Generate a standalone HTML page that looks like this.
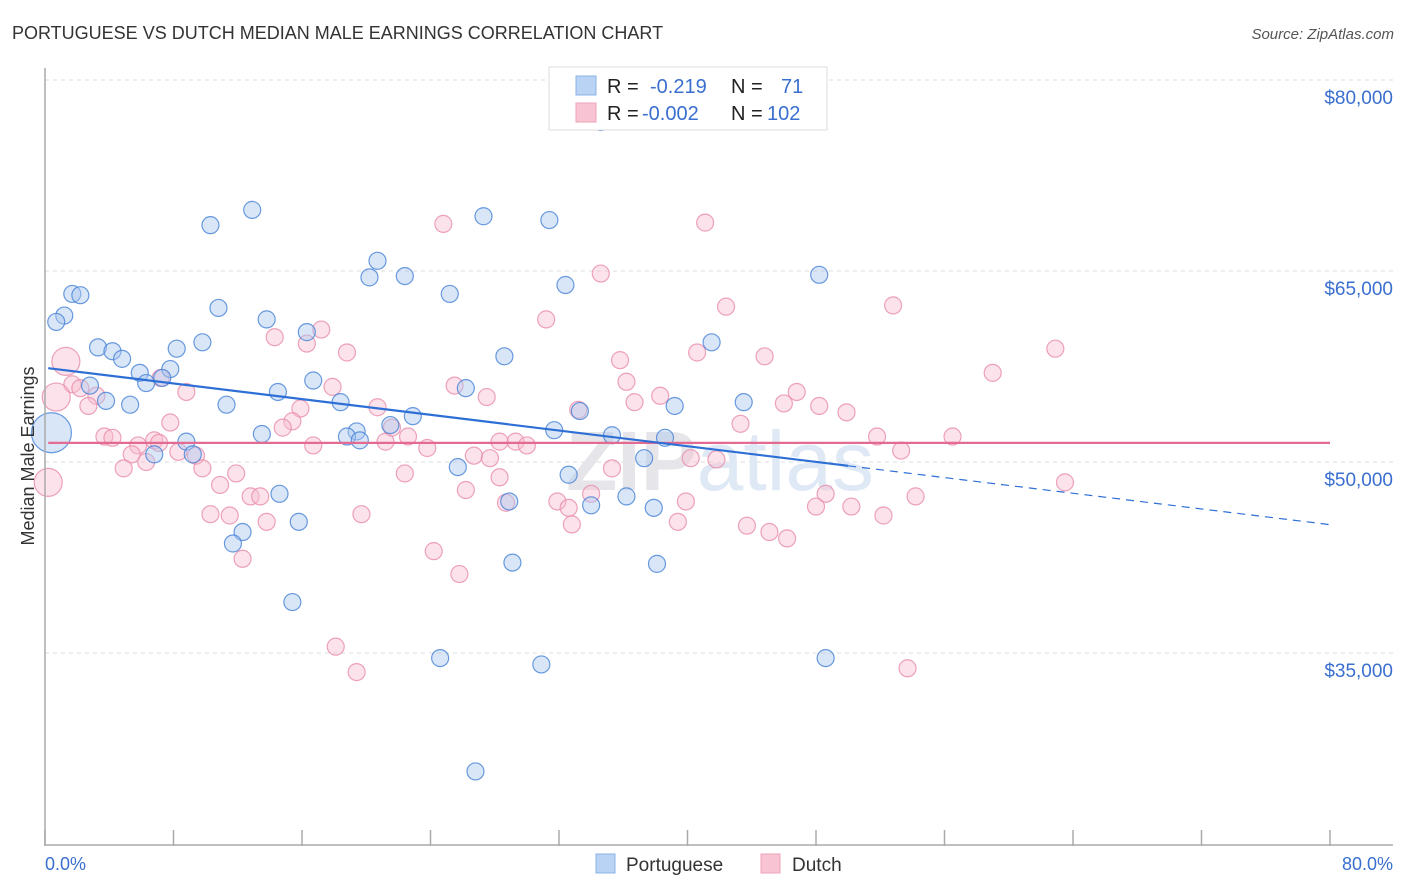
<!DOCTYPE html>
<html><head><meta charset="utf-8">
<style>
body{margin:0;background:#fff;font-family:"Liberation Sans",sans-serif;}
svg{display:block}
</style></head>
<body>
<svg id="chart" width="1406" height="892" xmlns="http://www.w3.org/2000/svg">
<text x="12" y="39" font-size="18" fill="#333">PORTUGUESE VS DUTCH MEDIAN MALE EARNINGS CORRELATION CHART</text>
<text x="1394" y="39" font-size="15" fill="#555" font-style="italic" text-anchor="end">Source: ZipAtlas.com</text>
<g id="grid"></g>
<text x="720" y="490" font-size="84" font-weight="bold" fill="#e6e6ea" text-anchor="middle">ZIP<tspan fill="#dfe8f5" font-weight="normal">atlas</tspan></text>
<g id="pinkPts"></g>
<g id="bluePts"></g>
<g id="lines"></g>
<g id="axes"></g>
<text transform="translate(34,456) rotate(-90)" font-size="18" fill="#333" text-anchor="middle">Median Male Earnings</text>
<text x="45" y="870" font-size="18" fill="#3a6fd0">0.0%</text>
<text x="1393" y="870" font-size="18" fill="#3a6fd0" text-anchor="end">80.0%</text>
<g>
<rect x="549" y="67" width="278" height="63" fill="#fff" stroke="#ddd"/>
<rect x="576" y="76" width="20" height="19" fill="#b9d3f5" stroke="#8cb1e6"/>
<rect x="576" y="103" width="20" height="19" fill="#f8c4d3" stroke="#eea3ba"/>
<text x="607" y="93" font-size="20" fill="#222">R = <tspan x="650" fill="#3a6fd0">-0.219</tspan><tspan x="731" fill="#222">N =</tspan><tspan x="781" fill="#3a6fd0">71</tspan></text>
<text x="607" y="120" font-size="20" fill="#222">R = <tspan x="642" fill="#3a6fd0">-0.002</tspan><tspan x="731" fill="#222">N =</tspan><tspan x="767" fill="#3a6fd0">102</tspan></text>
</g>
<g>
<rect x="596" y="854" width="19" height="19" fill="#b9d3f5" stroke="#8cb1e6"/>
<text x="626" y="871" font-size="19" fill="#333">Portuguese</text>
<rect x="761" y="854" width="19" height="19" fill="#f8c4d3" stroke="#eea3ba"/>
<text x="792" y="871" font-size="19" fill="#333">Dutch</text>
</g>
</svg>
<script>
const yTicks=[35000,50000,65000,80000];
const yTickLabels=["$35,000","$50,000","$65,000","$80,000"];
const blueX=[34.6,12.9,10.3,27.3,31.4,20.7,22.4,20.2,32.4,48.2,1.7,2.2,25.2,10.8,1.2,0.7,13.8,16.3,3.3,4.2,9.8,8.2,41.5,28.6,4.8,5.9,7.8,7.3,6.3,16.7,2.8,14.5,26.2,3.8,5.3,11.3,18.4,43.5,39.2,22.9,33.3,21.5,13.5,19.4,18.8,19.6,31.7,35.3,8.8,38.6,0.4,6.8,9.2,37.3,25.7,32.6,28.9,34.0,36.2,37.9,14.6,15.8,12.3,11.7,29.1,38.1,15.4,24.6,30.9,48.6,26.8];
const blueY=[76.7,69.8,68.6,69.3,69.0,65.8,64.6,64.5,63.9,64.7,63.2,63.1,63.2,62.1,61.5,61.0,61.2,60.2,59.0,58.7,59.4,58.9,59.4,58.3,58.1,57.0,57.3,56.6,56.2,56.4,56.0,55.5,55.8,54.8,54.5,54.5,54.7,54.7,54.4,53.6,54.0,52.9,52.2,52.4,52.0,51.7,52.5,52.1,51.6,51.9,52.3,50.6,50.6,50.3,49.6,49.0,46.9,46.6,47.3,46.4,47.5,45.3,44.5,43.6,42.1,42.0,39.0,34.6,34.1,34.6,25.7];
const blueBig=[50];
const pinkX=[41.1,24.8,34.6,42.4,52.8,31.2,17.2,14.3,16.3,18.8,1.3,35.8,40.6,44.8,62.9,59.0,1.7,2.2,17.9,25.5,36.2,27.5,38.3,3.2,0.7,2.7,8.8,15.9,20.7,46.0,46.8,48.2,49.9,7.2,36.7,33.2,7.8,15.4,43.3,14.8,3.7,4.2,6.8,5.8,22.6,21.2,23.8,8.3,9.4,5.4,21.6,51.8,56.5,29.3,30.0,16.7,28.3,26.7,27.7,40.2,41.8,53.3,6.3,4.9,9.8,11.9,22.4,35.3,28.3,0.2,10.9,63.5,26.2,48.6,34.0,54.2,12.8,13.4,28.7,31.9,39.9,32.6,48.0,50.2,10.3,11.5,19.7,52.2,13.8,39.4,32.8,43.7,45.1,46.2,24.2,12.3,25.8,18.1,19.4,53.7,7.1];
const pinkY=[68.8,68.7,64.8,62.2,62.3,61.2,60.4,59.8,59.3,58.6,57.9,58.0,58.6,58.3,58.9,57.0,56.1,55.8,55.9,56.0,56.3,55.1,55.2,55.2,55.1,54.4,55.5,54.2,54.3,54.6,55.5,54.4,53.9,56.6,54.7,54.1,53.1,53.2,53.0,52.7,52.0,51.9,51.7,51.3,52.0,51.6,51.1,50.8,50.5,50.6,52.7,52.0,52.0,51.6,51.3,51.3,51.6,50.5,50.3,50.3,50.2,50.9,50.0,49.5,49.5,49.1,49.1,49.5,48.8,48.4,48.2,48.4,47.8,47.5,47.5,47.3,47.3,47.3,46.8,46.9,46.9,46.4,46.5,46.5,45.9,45.8,45.9,45.8,45.3,45.3,45.1,45.0,44.5,44.0,43.0,42.4,41.2,35.5,33.5,33.8,51.5];
const pinkBig=[10,24,69];
const blueTrend=[57.4,-0.154];
const pinkTrend=[51.5,0];
const blueSolidEnd=50;

const NS="http://www.w3.org/2000/svg";
function xS(p){return 45+p*(1330-45)/80;}
function yS(k){return 462-(k*1000-50000)*191/15000;}
function mk(tag,attrs,parent){const e=document.createElementNS(NS,tag);for(const k in attrs)e.setAttribute(k,attrs[k]);parent.appendChild(e);return e;}
const grid=document.getElementById('grid');
yTicks.forEach((t,i)=>{
  const y=yS(t/1000);
  const l=mk('line',{x1:45,x2:1393,y1:y,y2:y,stroke:'#dcdcdc','stroke-dasharray':'4,4'},grid);
  
  
  const tx=mk('text',{x:1393,y:y+24,'font-size':19,fill:'#3a6fd0','text-anchor':'end'},grid);
  tx.textContent=yTickLabels[i];
  
  
});
const axes=document.getElementById('axes');
let a=mk('line',{x1:45,x2:45,y1:68,y2:846,stroke:'#aaa','stroke-width':1.5},axes);


a=mk('line',{x1:45,x2:1393,y1:845,y2:845,stroke:'#aaa','stroke-width':1.5},axes);


for(let i=0;i<=10;i++){
  const t=mk('line',{x1:xS(i*8),x2:xS(i*8),y1:830,y2:846,stroke:'#aaa','stroke-width':1.5},axes);
  
  
}
const pg=document.getElementById('pinkPts');
pinkX.forEach((x,i)=>{
  const big=pinkBig.includes(i);
  const c=mk('circle',{cx:xS(x),cy:yS(pinkY[i]),r:big?14:8.5,fill:'rgba(248,190,208,0.45)',stroke:'rgba(232,140,170,0.8)','stroke-width':1.2},pg);
  
  
});
const bg=document.getElementById('bluePts');
blueX.forEach((x,i)=>{
  const big=blueBig.includes(i);
  const c=mk('circle',{cx:xS(x),cy:yS(blueY[i]),r:big?20:8.5,fill:'rgba(170,200,240,0.45)',stroke:'rgba(70,130,215,0.8)','stroke-width':1.2},bg);
  
  
});
const lg=document.getElementById('lines');
function tv(t,x){return t[0]+t[1]*x;}
let ln=mk('line',{x1:xS(0.2),y1:yS(tv(pinkTrend,0.2)),x2:xS(80),y2:yS(tv(pinkTrend,80)),stroke:'#e36b91','stroke-width':2.2},lg);


ln=mk('line',{x1:xS(0.2),y1:yS(tv(blueTrend,0.2)),x2:xS(blueSolidEnd),y2:yS(tv(blueTrend,blueSolidEnd)),stroke:'#2e6fd6','stroke-width':2.2},lg);


ln=mk('line',{x1:xS(blueSolidEnd),y1:yS(tv(blueTrend,blueSolidEnd)),x2:xS(80),y2:yS(tv(blueTrend,80)),stroke:'#2e6fd6','stroke-width':1.2,'stroke-dasharray':'8,6'},lg);


</script>
</body></html>
